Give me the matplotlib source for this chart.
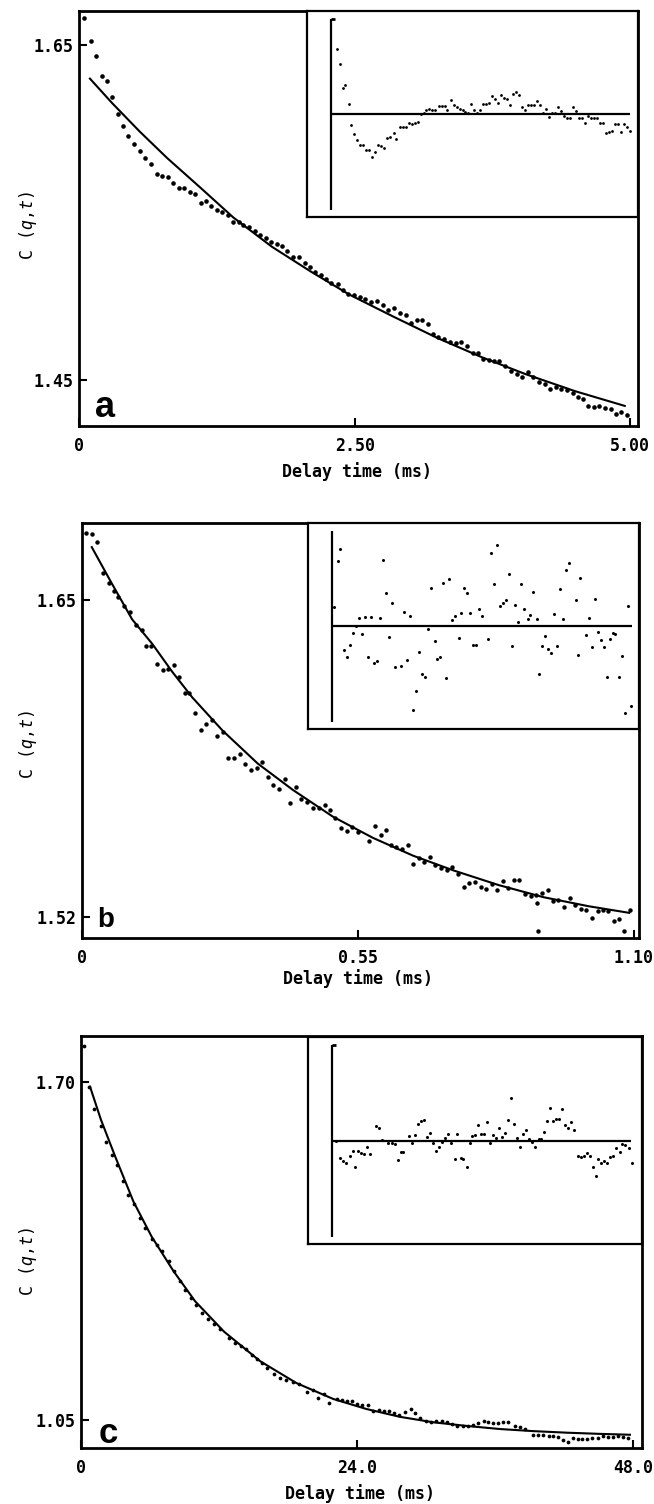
import matplotlib
matplotlib.use("Agg")
import matplotlib.pyplot as plt

plt.rcParams['font.family'] = ['DejaVu Sans']
plt.rcParams['mathtext.fontset'] = 'custom'
plt.rcParams['mathtext.rm'] = 'DejaVu Sans Mono'
plt.rcParams['mathtext.it'] = 'DejaVu Sans Mono:italic'

# ---------------- panel a ----------------
t_a = [0.049, 0.109, 0.155, 0.207, 0.253, 0.299, 0.352, 0.398, 0.444, 0.497,
       0.549, 0.602, 0.655, 0.707, 0.757, 0.806, 0.855, 0.904, 0.954, 1.003,
       1.056, 1.108, 1.154, 1.200, 1.253, 1.299, 1.352, 1.398, 1.447, 1.490,
       1.546, 1.595, 1.645, 1.694, 1.743, 1.793, 1.842, 1.891, 1.944, 1.996,
       2.049, 2.095, 2.141, 2.194, 2.240, 2.286, 2.345, 2.398, 2.444, 2.496,
       2.549, 2.598, 2.648, 2.700, 2.753, 2.806, 2.858, 2.911, 2.963, 3.009,
       3.062, 3.108, 3.161, 3.213, 3.259, 3.312, 3.365, 3.417, 3.463, 3.516,
       3.569, 3.615, 3.667, 3.720, 3.766, 3.812, 3.865, 3.917, 3.970, 4.022,
       4.075, 4.121, 4.174, 4.226, 4.272, 4.325, 4.371, 4.424, 4.476, 4.522,
       4.575, 4.621, 4.674, 4.720, 4.772, 4.825, 4.871, 4.917, 4.970]
c_a = [1.6660, 1.6524, 1.6434, 1.6314, 1.6288, 1.6188, 1.6088, 1.6016, 1.5960, 1.5908,
       1.5868, 1.5824, 1.5792, 1.5732, 1.5720, 1.5714, 1.5674, 1.5644, 1.5648, 1.5620,
       1.5608, 1.5554, 1.5568, 1.5540, 1.5514, 1.5504, 1.5484, 1.5444, 1.5444, 1.5424,
       1.5414, 1.5388, 1.5368, 1.5348, 1.5324, 1.5314, 1.5300, 1.5268, 1.5234, 1.5234,
       1.5200, 1.5174, 1.5144, 1.5124, 1.5100, 1.5080, 1.5074, 1.5034, 1.5014, 1.5004,
       1.4994, 1.4980, 1.4968, 1.4972, 1.4948, 1.4916, 1.4932, 1.4900, 1.4888, 1.4840,
       1.4860, 1.4860, 1.4832, 1.4774, 1.4754, 1.4744, 1.4724, 1.4720, 1.4724, 1.4700,
       1.4660, 1.4658, 1.4624, 1.4616, 1.4610, 1.4614, 1.4584, 1.4554, 1.4536, 1.4518,
       1.4544, 1.4514, 1.4488, 1.4476, 1.4448, 1.4456, 1.4448, 1.4440, 1.4424, 1.4400,
       1.4388, 1.4344, 1.4340, 1.4344, 1.4332, 1.4328, 1.4294, 1.4308, 1.4288]
fit_t_a = [0.099, 0.30, 0.55, 0.80, 1.10, 1.40, 1.75, 2.10, 2.45, 2.85, 3.25, 3.65, 4.05, 4.50, 4.95]
fit_c_a = [1.6300, 1.6154, 1.5984, 1.5825, 1.5649, 1.5470, 1.5295, 1.5148, 1.5010, 1.4878,
           1.4750, 1.4636, 1.4534, 1.4432, 1.4344]
res_t_a = [0.094, 0.150, 0.194, 0.239, 0.294, 0.339, 0.389, 0.438, 0.488, 0.538,
           0.588, 0.638, 0.688, 0.738, 0.788, 0.838, 0.888, 0.938, 0.988, 1.043,
           1.088, 1.143, 1.193, 1.249, 1.299, 1.349, 1.404, 1.454, 1.499, 1.548,
           1.587, 1.637, 1.682, 1.737, 1.793, 1.843, 1.893, 1.937, 1.992, 2.042,
           2.092, 2.142, 2.192, 2.237, 2.287, 2.337, 2.387, 2.436, 2.486, 2.536,
           2.586, 2.636, 2.686, 2.736, 2.786, 2.836, 2.886, 2.936, 2.980, 3.036,
           3.086, 3.136, 3.186, 3.236, 3.286, 3.336, 3.386, 3.435, 3.485, 3.535,
           3.585, 3.635, 3.685, 3.735, 3.780, 3.830, 3.879, 3.929, 3.979, 4.029,
           4.074, 4.124, 4.174, 4.224, 4.274, 4.323, 4.373, 4.423, 4.473, 4.523,
           4.573, 4.623, 4.673, 4.723, 4.773, 4.823, 4.873, 4.923, 4.973]
res_a = [1.98, 1.53, 0.80, 0.89, 0.30, -0.32, -0.60, -0.77, -0.92, -0.93,
         -1.07, -1.07, -1.29, -1.13, -0.92, -0.97, -1.02, -0.72, -0.69, -0.55,
         -0.75, -0.39, -0.39, -0.39, -0.25, -0.30, -0.25, -0.23, 0.02, 0.03,
         0.12, 0.17, 0.13, 0.14, 0.26, 0.24, 0.25, 0.13, 0.42, 0.27,
         0.22, 0.15, 0.12, 0.07, 0.05, 0.32, 0.14, 0.05, 0.12, 0.32,
         0.32, 0.35, 0.55, 0.47, 0.35, 0.59, 0.49, 0.45, 0.27, 0.61,
         0.67, 0.58, 0.22, 0.13, 0.27, 0.27, 0.27, 0.39, 0.27, 0.05,
         0.15, -0.07, 0.05, 0.05, 0.23, 0.09, -0.05, -0.12, -0.12, 0.23,
         0.10, -0.12, -0.12, -0.27, -0.05, -0.10, -0.12, -0.10, -0.27, -0.25,
         -0.55, -0.53, -0.49, -0.30, -0.30, -0.53, -0.28, -0.38, -0.50]

# ---------------- panel b ----------------
t_b = [0.0072, 0.0195, 0.0289, 0.0413, 0.0536, 0.0637, 0.0724, 0.0839, 0.0955, 0.1086,
       0.1187, 0.1281, 0.1375, 0.1491, 0.1607, 0.1715, 0.1824, 0.1932, 0.2048, 0.2142,
       0.2258, 0.2374, 0.2475, 0.2584, 0.2692, 0.2808, 0.2909, 0.3025, 0.3141, 0.3257,
       0.3365, 0.3488, 0.3582, 0.3698, 0.3814, 0.3922, 0.4038, 0.4147, 0.4255, 0.4371,
       0.4487, 0.4603, 0.4719, 0.4834, 0.4943, 0.5051, 0.5167, 0.5283, 0.5384, 0.5500,
       0.5717, 0.5833, 0.5949, 0.6050, 0.6166, 0.6267, 0.6383, 0.6499, 0.6600, 0.6716,
       0.6817, 0.6933, 0.7034, 0.7150, 0.7266, 0.7382, 0.7490, 0.7613, 0.7715, 0.7831,
       0.7946, 0.8048, 0.8163, 0.8279, 0.8380, 0.8496, 0.8612, 0.8713, 0.8829, 0.8945,
       0.9046, 0.9075, 0.9162, 0.9278, 0.9379, 0.9495, 0.9611, 0.9727, 0.9828, 0.9944,
       1.0045, 1.0161, 1.0277, 1.0378, 1.0479, 1.0595, 1.0711, 1.0798, 1.0929, 0.9090]
c_b = [1.6774, 1.6771, 1.6739, 1.6611, 1.6568, 1.6538, 1.6511, 1.6477, 1.6449, 1.6397,
       1.6377, 1.6313, 1.6313, 1.6237, 1.6213, 1.6217, 1.6235, 1.6183, 1.6117, 1.6118,
       1.6036, 1.5966, 1.5991, 1.6009, 1.5943, 1.5957, 1.5854, 1.5851, 1.5868, 1.5827,
       1.5802, 1.5813, 1.5838, 1.5775, 1.5741, 1.5724, 1.5768, 1.5669, 1.5735, 1.5686,
       1.5673, 1.5649, 1.5646, 1.5658, 1.5639, 1.5608, 1.5567, 1.5553, 1.5571, 1.5550,
       1.5512, 1.5574, 1.5535, 1.5556, 1.5494, 1.5487, 1.5481, 1.5494, 1.5420, 1.5444,
       1.5426, 1.5446, 1.5416, 1.5403, 1.5393, 1.5407, 1.5379, 1.5325, 1.5341, 1.5344,
       1.5325, 1.5315, 1.5338, 1.5310, 1.5348, 1.5318, 1.5352, 1.5352, 1.5296, 1.5286,
       1.5293, 1.5259, 1.5301, 1.5311, 1.5266, 1.5270, 1.5241, 1.5279, 1.5252, 1.5234,
       1.5229, 1.5197, 1.5227, 1.5229, 1.5227, 1.5184, 1.5193, 1.5145, 1.5231, 1.5143]
fit_t_b = [0.0195, 0.06, 0.10, 0.14, 0.18, 0.22, 0.28, 0.35, 0.42, 0.50, 0.58, 0.66, 0.74,
           0.83, 0.92, 1.01, 1.0906]
fit_c_b = [1.6716, 1.6565, 1.6420, 1.6320, 1.6205, 1.6100, 1.5965, 1.5830, 1.5722, 1.5612,
           1.5525, 1.5452, 1.5392, 1.5332, 1.5282, 1.5245, 1.5218]
res_t_b = [0.0073, 0.0219, 0.0304, 0.0438, 0.0548, 0.0657, 0.0767, 0.0876, 0.0986, 0.1095,
           0.1205, 0.1314, 0.1424, 0.1521, 0.1631, 0.1752, 0.1874, 0.1972, 0.2069, 0.2191,
           0.2300, 0.2519, 0.2629, 0.2738, 0.2848, 0.2957, 0.3055, 0.3176, 0.3298, 0.3408,
           0.3517, 0.3614, 0.3748, 0.3834, 0.3955, 0.4053, 0.4162, 0.4272, 0.4381, 0.4479,
           0.4625, 0.4722, 0.4831, 0.4929, 0.5051, 0.5136, 0.5245, 0.5355, 0.5477, 0.5708,
           0.5793, 0.5915, 0.6012, 0.6134, 0.6231, 0.6353, 0.6462, 0.6584, 0.6681, 0.6803,
           0.6900, 0.7010, 0.7144, 0.7241, 0.7351, 0.7473, 0.7570, 0.7679, 0.7789, 0.7898,
           0.8008, 0.8117, 0.8215, 0.8324, 0.8434, 0.8543, 0.8653, 0.8896, 0.8981, 0.9067,
           0.9286, 0.9395, 0.9505, 0.9614, 0.9712, 0.9833, 0.9931, 1.0040, 1.0150, 1.0259,
           1.0345, 1.0478, 1.0588, 1.0697, 1.0807, 1.0929]
res_b = [0.58, 1.98, 2.35, -0.72, -0.94, -0.55, -0.20, 0.02, 0.25, -0.24,
         0.28, -0.92, 0.28, -1.12, -1.06, 0.26, 2.00, 1.00, -0.32, 0.70,
         -1.23, -1.19, 0.44, -1.03, 0.32, -2.54, -1.96, -0.78, -1.44, -1.54,
         -0.07, 1.16, -0.44, -0.99, -0.92, 1.31, -1.55, 1.42, 0.20, 0.30,
         -0.34, 0.41, 1.17, 1.01, 0.41, -0.56, -0.56, 0.53, 0.30, -0.39,
         2.22, 1.28, 2.45, 0.61, 0.70, 0.78, 1.58, -0.59, 0.64, 0.14,
         1.29, 0.51, 0.23, 0.35, 1.04, 0.21, -1.45, -0.58, -0.28, -0.68,
         -0.81, 0.36, -0.58, 1.12, 0.23, 1.70, 1.90, 0.80, -0.87, 1.45,
         -0.27, 0.25, -0.61, 0.83, -0.17, -0.41, -0.61, -1.52, -0.39, -0.19,
         -0.22, -1.52, -0.90, -2.62, 0.62, -2.40]

# ---------------- panel c ----------------
t_c = [0.220, 0.724, 1.165, 1.732, 2.205, 2.740, 3.150, 3.622, 4.094, 4.567,
       5.134, 5.606, 6.142, 6.614, 7.087, 7.622, 8.095, 8.598, 9.039, 9.575,
       9.984, 10.551, 11.087, 11.559, 12.126, 12.882, 13.386, 13.890, 14.331, 14.835,
       15.276, 15.780, 16.220, 16.756, 17.354, 17.858, 18.425, 18.929, 19.685, 20.189,
       20.630, 21.102, 21.575, 22.23, 22.67, 23.10, 23.54, 23.97, 24.41, 24.99,
       25.42, 25.91, 26.38, 26.81, 27.22, 27.68, 28.17, 28.67, 29.04, 29.48,
       30.00, 30.41, 30.87, 31.36, 31.80, 32.23, 32.67, 33.19, 33.68, 34.12,
       34.55, 35.04, 35.42, 35.85, 36.29, 36.72, 37.16, 37.74, 38.17, 38.61,
       39.33, 39.77, 40.20, 40.72, 41.07, 41.51, 41.94, 42.38, 42.81, 43.25,
       43.62, 44.03, 44.49, 44.99, 45.42, 45.85, 46.29, 46.72, 47.16, 47.59]
c_c = [1.7701, 1.6914, 1.6485, 1.6159, 1.5858, 1.5602, 1.5400, 1.5100, 1.4834, 1.4650,
       1.4385, 1.4193, 1.3990, 1.3874, 1.3746, 1.3554, 1.3362, 1.3183, 1.3010, 1.2849,
       1.2722, 1.2561, 1.2434, 1.2338, 1.2242, 1.2081, 1.1985, 1.1922, 1.1858, 1.1749,
       1.1666, 1.1589, 1.1493, 1.1390, 1.1313, 1.1269, 1.1230, 1.1186, 1.1044, 1.1071,
       1.0929, 1.0994, 1.0833, 1.0904, 1.0885, 1.0859, 1.0872, 1.0808, 1.0789, 1.0795,
       1.0680, 1.0699, 1.0680, 1.0667, 1.0635, 1.0603, 1.0648, 1.0712, 1.0635, 1.0539,
       1.0475, 1.0456, 1.0488, 1.0475, 1.0456, 1.0424, 1.0392, 1.0379, 1.0392, 1.0405,
       1.0443, 1.0488, 1.0456, 1.0443, 1.0443, 1.0456, 1.0469, 1.0379, 1.0360, 1.0328,
       1.0213, 1.0213, 1.0213, 1.0200, 1.0200, 1.0181, 1.0117, 1.0085, 1.0149, 1.0136,
       1.0136, 1.0136, 1.0155, 1.0161, 1.0187, 1.0181, 1.0181, 1.0187, 1.0181, 1.0155]
fit_t_c = [0.787, 1.732, 2.992, 4.567, 6.142, 8.031, 9.921, 12.44, 15.59, 18.74, 21.94,
           24.84, 27.74, 30.64, 33.54, 36.44, 39.34, 42.24, 45.14, 47.75]
fit_c_c = [1.6914, 1.6280, 1.5560, 1.4700, 1.4030, 1.3370, 1.2786, 1.2200, 1.1630, 1.1210,
           1.0904, 1.0710, 1.0560, 1.0455, 1.0385, 1.0325, 1.0285, 1.0255, 1.0232, 1.0215]
res_t_c = [0.69, 1.32, 1.80, 2.27, 2.80, 3.28, 3.70, 4.18, 4.66, 5.08,
           5.55, 6.03, 6.98, 7.51, 7.99, 8.94, 9.47, 9.95, 10.42, 10.90,
           11.32, 12.27, 12.75, 13.23, 13.70, 14.18, 14.65, 15.13, 15.55, 16.08,
           16.56, 17.03, 17.51, 17.93, 18.46, 18.94, 19.47, 19.89, 20.42, 20.84,
           21.37, 21.85, 22.27, 22.75, 23.22, 23.70, 24.18, 24.65, 25.02, 25.55,
           26.03, 26.50, 26.98, 27.46, 27.98, 28.41, 28.94, 29.36, 29.84, 30.31,
           30.84, 31.32, 31.79, 32.27, 32.80, 33.22, 33.64, 34.12, 34.60, 35.13,
           35.55, 36.02, 36.55, 37.03, 37.51, 37.93, 38.41, 39.04, 39.57, 40.05,
           40.47, 40.94, 41.37, 41.84, 42.27, 42.74, 43.22, 43.70, 44.17, 44.65,
           45.12, 45.65, 45.97, 46.50, 47.13, 47.61]
res_c = [0.00, -0.53, -0.60, -0.68, -0.46, -0.32, -0.78, -0.31, -0.38, -0.39,
         -0.20, -0.40, 0.44, 0.40, 0.04, -0.06, -0.06, -0.10, -0.58, -0.35,
         -0.33, 0.14, -0.06, 0.18, 0.50, 0.59, 0.62, 0.12, 0.24, -0.08,
         -0.32, -0.20, -0.05, 0.10, 0.20, -0.08, -0.56, 0.20, -0.51, -0.54,
         -0.80, -0.06, 0.16, 0.19, 0.47, 0.20, 0.20, 0.56, -0.06, 0.18,
         0.10, 0.40, 0.12, 0.23, 0.64, 1.29, 0.52, 0.10, -0.18, 0.20,
         0.34, 0.06, -0.04, -0.18, 0.05, 0.05, 0.28, 0.60, 1.00, 0.60,
         0.66, 0.65, 0.95, 0.48, 0.38, 0.57, 0.34, -0.46, -0.48, -0.45,
         -0.36, -0.45, -0.80, -1.06, -0.55, -0.68, -0.60, -0.68, -0.50, -0.45,
         -0.23, -0.33, -0.09, -0.14, -0.23, -0.68]

xtick_vals = {'a': [0, 2.5, 5.0], 'b': [0, 0.55, 1.10], 'c': [0, 24.0, 48.0]}
xtick_lbls = {'a': ['0', '2.50', '5.00'], 'b': ['0', '0.55', '1.10'], 'c': ['0', '24.0', '48.0']}
ytick_vals = {'a': [1.45, 1.65], 'b': [1.52, 1.65], 'c': [1.05, 1.70]}
ytick_lbls = {'a': ['1.45', '1.65'], 'b': ['1.52', '1.65'], 'c': ['1.05', '1.70']}

# ---------------- layout (pixels) ----------------
W, H = 654, 1504
fig = plt.figure(figsize=(W / 100, H / 100), dpi=100)


def rect(l, t, r, b):
    return [l / W, 1 - b / H, (r - l) / W, (b - t) / H]


panels = [
    dict(key='a', t=t_a, c=c_a, ft=fit_t_a, fc=fit_c_a, rt=res_t_a, r=res_a,
         main=(79, 11, 638, 426), ins=(307, 11, 638, 217),
         xlim=(0, 5.07), ylim=(1.4224, 1.6704), ixlim=(-0.40, 5.11), zend=4.98,
         ms=3.3, ims=2.0, hook=True,
         letter=(95, 417, 26), xlab=(357, 472), ylab=(28, 226)),
    dict(key='b', t=t_b, c=c_b, ft=fit_t_b, fc=fit_c_b, rt=res_t_b, r=res_b,
         main=(82, 523, 639, 938), ins=(308, 523, 639, 729),
         xlim=(0, 1.11), ylim=(1.5115, 1.6815), ixlim=(-0.088, 1.121), zend=1.095,
         ms=3.2, ims=2.2, hook=False,
         letter=(97, 927, 20), xlab=(358, 979), ylab=(28, 745)),
    dict(key='c', t=t_c, c=c_c, ft=fit_t_c, fc=fit_c_c, rt=res_t_c, r=res_c,
         main=(81, 1036, 642, 1448), ins=(308, 1037, 642, 1244),
         xlim=(0, 48.8), ylim=(0.996, 1.789), ixlim=(-3.81, 49.2), zend=47.5,
         ms=2.7, ims=2.2, hook=True,
         letter=(99, 1443, 25), xlab=(360, 1494), ylab=(28, 1262)),
]

INS_YLIM = (-3.1, 3.12)
AX_SPAN = (-2.88, 2.87)
mono = 'DejaVu Sans Mono'

for p in panels:
    ax = fig.add_axes(rect(*p['main']))
    ax.plot(p['t'], p['c'], 'o', color='k', ms=p['ms'], mew=0, zorder=3)
    ax.plot(p['ft'], p['fc'], '-', color='k', lw=1.5, zorder=2)
    ax.set_xlim(*p['xlim'])
    ax.set_ylim(*p['ylim'])
    ax.set_xticks(xtick_vals[p['key']])
    ax.set_xticklabels(xtick_lbls[p['key']])
    ax.set_yticks(ytick_vals[p['key']])
    ax.set_yticklabels(ytick_lbls[p['key']])
    ax.tick_params(axis='both', direction='in', length=6, width=1.5, labelsize=12)
    ax.tick_params(axis='x', pad=8)
    ax.tick_params(axis='y', pad=4)
    for lbl in ax.get_xticklabels() + ax.get_yticklabels():
        lbl.set_fontfamily(mono)
        lbl.set_fontweight('bold')
    for s in ax.spines.values():
        s.set_linewidth(2.0)

    lx, ly, lsz = p['letter']
    fig.text(lx / W, 1 - ly / H, p['key'], fontsize=lsz, fontweight='bold',
             family='Liberation Sans', ha='left', va='baseline')
    xx, xy = p['xlab']
    fig.text(xx / W, 1 - xy / H, 'Delay time (ms)', fontsize=12, family=mono,
             fontweight='bold', ha='center', va='center')
    yx, yy = p['ylab']
    fig.text(yx / W, 1 - yy / H, r'C ($q$,$t$)', fontsize=12, family=mono,
             rotation=90, ha='center', va='center')

    ai = fig.add_axes(rect(*p['ins']))
    ai.set_facecolor('white')
    ai.plot(p['rt'], p['r'], 'o', color='k', ms=p['ims'], mew=0, zorder=3)
    ai.set_xlim(*p['ixlim'])
    ai.set_ylim(*INS_YLIM)
    ai.vlines(0, AX_SPAN[0], AX_SPAN[1], color='k', lw=1.6)
    ai.hlines(0, 0, p['zend'], color='k', lw=1.6)
    if p['hook']:
        ai.plot([0, (p['ixlim'][1] - p['ixlim'][0]) * 0.012], [AX_SPAN[1], AX_SPAN[1]],
                color='k', lw=2.0, solid_capstyle='butt')
    ai.set_xticks([])
    ai.set_yticks([])
    for s in ai.spines.values():
        s.set_linewidth(1.6)

fig.savefig('out.png', dpi=100, facecolor='white')
